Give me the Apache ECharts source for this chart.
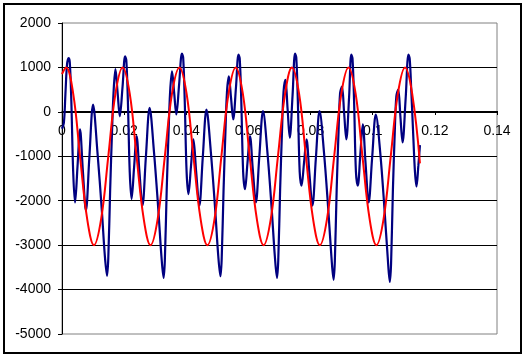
<!DOCTYPE html>
<html>
<head>
<meta charset="utf-8">
<script src="https://cdn.jsdelivr.net/npm/echarts@6/dist/echarts.min.js"></script>
<style>
html,body{margin:0;padding:0;background:#fff;}
#chart{width:525px;height:358px;}
</style>
</head>
<body>
<div id="chart"></div>
<script>
// Blue waveform, cycle by cycle: [time, value]
var blueC1 = [[0,-380],[0.0006,-250],[0.0011,400],[0.0016,1050],[0.0021,1210],[0.0025,1120],[0.0030,250],[0.0036,-1350],[0.0042,-2040],[0.0050,-1220],[0.0058,-395],[0.0067,-1310],[0.0077,-2220],[0.0088,-1030],[0.0100,164],[0.0114,-900],[0.0128,-2200],[0.0138,-3250],[0.0145,-3690],[0.0149,-3290],[0.0155,-1750],[0.0161,-450],[0.0166,450],[0.0172,960],[0.0179,430],[0.0186,-100],[0.0195,575]];
var blueC2 = [[0.0203,1250],[0.0207,1160],[0.0212,250],[0.0218,-1350],[0.0224,-1960],[0.0232,-1250],[0.0240,-545],[0.0249,-1330],[0.0259,-2110],[0.0270,-1010],[0.0282,90],[0.0296,-900],[0.0310,-2200],[0.0320,-3250],[0.0327,-3740],[0.0331,-3340],[0.0337,-1750],[0.0343,-450],[0.0348,450],[0.0354,910],[0.0361,425],[0.0368,-60],[0.0377,625]];
var blueC3 = [[0.0386,1310],[0.0390,1220],[0.0395,250],[0.0401,-1350],[0.0407,-1850],[0.0415,-1235],[0.0423,-620],[0.0432,-1365],[0.0442,-2110],[0.0453,-1030],[0.0465,52],[0.0479,-900],[0.0493,-2200],[0.0503,-3250],[0.0510,-3700],[0.0514,-3300],[0.0520,-1750],[0.0526,-450],[0.0531,450],[0.0537,800],[0.0544,315],[0.0551,-170],[0.0560,560]];
var blueC4 = [[0.0568,1290],[0.0572,1200],[0.0577,250],[0.0583,-1350],[0.0589,-1740],[0.0597,-1140],[0.0605,-545],[0.0614,-1290],[0.0624,-2040],[0.0635,-1010],[0.0647,15],[0.0661,-900],[0.0675,-2200],[0.0685,-3250],[0.0692,-3740],[0.0696,-3340],[0.0702,-1750],[0.0708,-450],[0.0713,450],[0.0719,720],[0.0726,70],[0.0733,-580],[0.0742,365]];
var blueC5 = [[0.0750,1310],[0.0754,1220],[0.0759,250],[0.0765,-1350],[0.0771,-1660],[0.0779,-1140],[0.0787,-620],[0.0796,-1365],[0.0806,-2110],[0.0817,-1050],[0.0829,15],[0.0843,-900],[0.0857,-2200],[0.0867,-3250],[0.0874,-3780],[0.0878,-3380],[0.0884,-1750],[0.0890,-450],[0.0895,420],[0.0901,570],[0.0908,-25],[0.0915,-620],[0.0924,335]];
var blueC6 = [[0.0931,1290],[0.0935,1200],[0.0940,250],[0.0946,-1350],[0.0952,-1660],[0.0960,-970],[0.0968,-280],[0.0977,-1160],[0.0987,-2040],[0.0998,-1050],[0.1010,-60],[0.1024,-900],[0.1038,-2200],[0.1048,-3250],[0.1055,-3830],[0.1059,-3430],[0.1065,-1750],[0.1071,-450],[0.1076,350],[0.1082,500],[0.1089,-95],[0.1096,-690],[0.1106,300]];
var blueC7 = [[0.1115,1290],[0.1119,1200],[0.1124,500],[0.1131,-620],[0.1136,-1350],[0.1141,-1680],[0.1147,-1200],[0.1152,-750]];

// Red waveform: [time, value]
var redC1 = [[0,850],[0.0013,1000],[0.0036,410],[0.0058,-1000],[0.0081,-2410],[0.0103,-3000],[0.0126,-2410],[0.0149,-1000],[0.0172,410]];
var redC2 = [[0.0195,1000],[0.0218,410],[0.0240,-1000],[0.0263,-2410],[0.0285,-3000],[0.0308,-2410],[0.0331,-1000],[0.0354,410]];
var redC3 = [[0.0378,1000],[0.0401,410],[0.0423,-1000],[0.0446,-2410],[0.0468,-3000],[0.0491,-2410],[0.0513,-1000],[0.0536,410]];
var redC4 = [[0.0559,1000],[0.0582,410],[0.0604,-1000],[0.0627,-2410],[0.0649,-3000],[0.0672,-2410],[0.0695,-1000],[0.0718,410]];
var redC5 = [[0.0740,1000],[0.0763,410],[0.0785,-1000],[0.0808,-2410],[0.0830,-3000],[0.0853,-2410],[0.0876,-1000],[0.0899,410]];
var redC6 = [[0.0922,1000],[0.0945,410],[0.0967,-1000],[0.0990,-2410],[0.1012,-3000],[0.1035,-2410],[0.1058,-1000],[0.1081,410]];
var redC7 = [[0.1104,1000],[0.1127,410],[0.1152,-1160]];

var xMin = 0, xMax = 0.14, xStep = 0.02;
var yMin = -5000, yMax = 2000, yStep = 1000;

var blueData = [].concat(blueC1, blueC2, blueC3, blueC4, blueC5, blueC6, blueC7);
var redData = [].concat(redC1, redC2, redC3, redC4, redC5, redC6, redC7);

var gridTop = 23, gridHeight = 311;
var chart = echarts.init(document.getElementById('chart'), null, {renderer: 'canvas'});
var font = 'Liberation Sans, Arial, sans-serif';
var option = {
  animation: false,
  backgroundColor: '#ffffff',
  graphic: [{
    type: 'rect', z: 100, silent: true,
    shape: {x: 4, y: 4, width: 517, height: 349},
    style: {fill: 'none', stroke: '#000', lineWidth: 2}
  }],
  grid: {left: 62, top: gridTop, width: 435, height: gridHeight, show: true, borderColor: '#808080', borderWidth: 1, backgroundColor: 'transparent'},
  xAxis: {
    type: 'value', min: xMin, max: xMax, interval: xStep, offset: 0,
    axisLine: {show: true, onZero: false, lineStyle: {color: '#000', width: 1}},
    axisTick: {show: true, inside: false, length: 4, lineStyle: {color: '#000'}},
    axisLabel: {color: '#000', fontFamily: font, fontSize: 14, margin: 13,
      formatter: function (v) { return String(Math.round(v * 100) / 100); }},
    splitLine: {show: false}
  },
  yAxis: {
    type: 'value', min: yMin, max: yMax, interval: yStep,
    axisLine: {show: true, onZero: false, lineStyle: {color: '#000', width: 1}},
    axisTick: {show: true, inside: false, length: 4, lineStyle: {color: '#000'}},
    axisLabel: {color: '#000', fontFamily: font, fontSize: 14, margin: 11,
      formatter: function (v) { return String(v); }},
    splitLine: {show: true, showMinLine: false, showMaxLine: false, lineStyle: {color: '#000', width: 1}}
  },
  series: [
    {type: 'line', data: blueData, showSymbol: false, smooth: 0.35,
     lineStyle: {color: '#000080', width: 2.2}, itemStyle: {color: '#000080'}},
    {type: 'line', data: redData, showSymbol: false, smooth: 0.4,
     lineStyle: {color: '#ff0000', width: 2}, itemStyle: {color: '#ff0000'}}
  ]
};
chart.setOption(option);
// place the x axis on the y = 0 line (the axis crosses at zero, as in the reference)
var yZero = chart.convertToPixel({yAxisIndex: 0}, 0);
chart.setOption({xAxis: {offset: -((gridTop + gridHeight) - yZero)}});
</script>
</body>
</html>
